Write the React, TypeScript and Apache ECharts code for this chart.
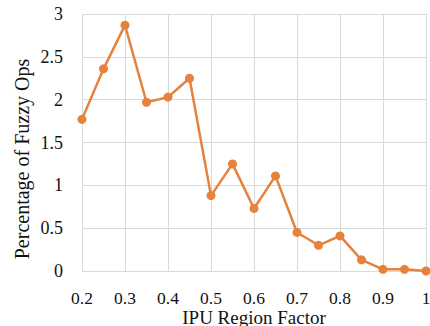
import React, { useEffect, useRef } from "react";
import * as echarts from "echarts";

const xValues = [0.2, 0.25, 0.3, 0.35, 0.4, 0.45, 0.5, 0.55, 0.6, 0.65, 0.7, 0.75, 0.8, 0.85, 0.9, 0.95, 1.0];
const fuzzyOps = [1.77, 2.36, 2.87, 1.97, 2.03, 2.25, 0.88, 1.25, 0.73, 1.11, 0.45, 0.3, 0.41, 0.13, 0.02, 0.02, 0.0];

const xAxisName = "IPU Region Factor";
const yAxisName = "Percentage of Fuzzy Ops";

export default function App() {
  const ref = useRef<HTMLDivElement>(null);
  useEffect(() => {
    document.body.style.margin = "0";
    const chart = echarts.init(ref.current!, null, { renderer: "svg" });
    const font = "Liberation Serif";
    const gridColor = "#d9d9d9";
    chart.setOption({
      animation: false,
      backgroundColor: "#ffffff",
      grid: { left: 82, right: 4, top: 14, bottom: 55, outerBoundsMode: "none", containLabel: false },
      xAxis: {
        type: "value",
        min: 0.2,
        max: 1,
        interval: 0.1,
        name: xAxisName,
        nameLocation: "middle",
        nameGap: 36.5,
        nameMoveOverlap: false,
        nameTextStyle: { fontFamily: font, fontSize: 19, lineHeight: 19, color: "#111" },
        axisLine: { show: false },
        axisTick: { show: false },
        axisLabel: { fontFamily: font, fontSize: 17.5, lineHeight: 16, color: "#111", margin: 19 },
        splitLine: { show: true, lineStyle: { color: gridColor, width: 1 } },
      },
      yAxis: {
        type: "value",
        min: 0,
        max: 3,
        interval: 0.5,
        axisLine: { show: false },
        axisTick: { show: false },
        axisLabel: { fontFamily: font, fontSize: 18, color: "#111", margin: 19, padding: [5, 0, 0, 0] },
        splitLine: { show: true, lineStyle: { color: gridColor, width: 1 } },
      },
      graphic: [
        {
          type: "text",
          x: 22,
          y: 159,
          rotation: Math.PI / 2,
          style: {
            text: yAxisName,
            fontFamily: font,
            fontSize: 20,
            fill: "#111",
            align: "center",
            verticalAlign: "middle",
          },
        },
      ],
      series: [
        {
          type: "line",
          data: xValues.map((x, i) => [x, fuzzyOps[i]]),
          symbol: "circle",
          symbolSize: 9,
          itemStyle: { color: "#E6823C" },
          lineStyle: { color: "#E6823C", width: 2.5 },
        },
      ],
    });
    return () => chart.dispose();
  }, []);
  return <div ref={ref} style={{ width: 430, height: 326 }} />;
}
